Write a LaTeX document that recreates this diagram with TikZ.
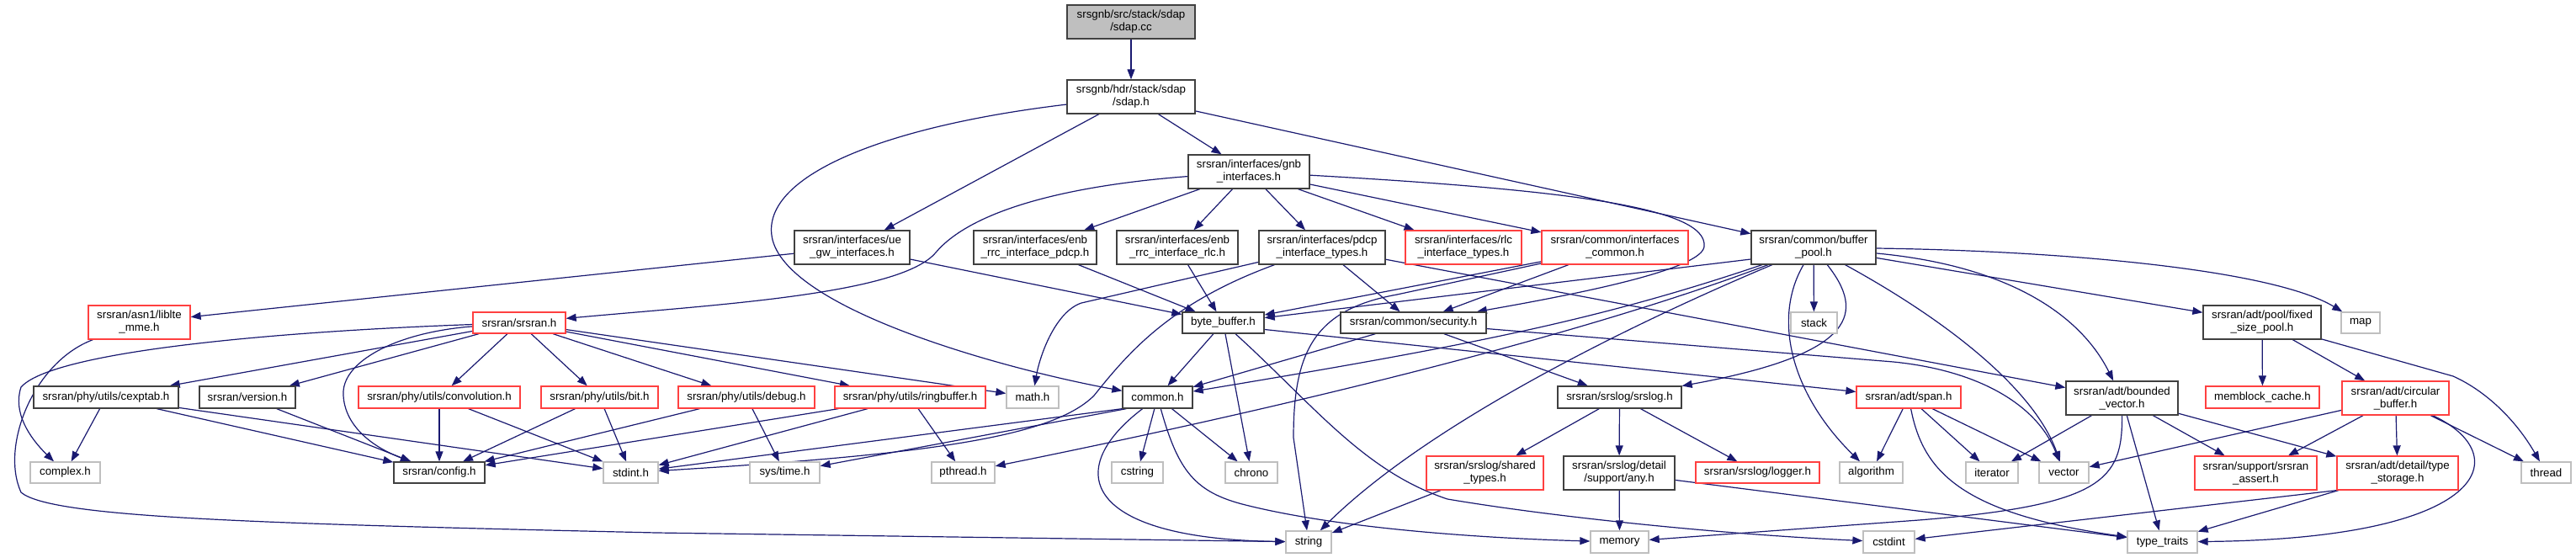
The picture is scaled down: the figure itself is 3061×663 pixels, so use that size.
\documentclass[tikz,border=0pt]{standalone}
\usepackage{fontspec}
\setmainfont{Liberation Sans}
\usetikzlibrary{arrows.meta,backgrounds}
\definecolor{edgec}{HTML}{191970}
\definecolor{darkb}{HTML}{404040}
\definecolor{redb}{HTML}{FF4040}
\definecolor{grayb}{HTML}{BFBFBF}
\definecolor{ccfill}{HTML}{BFBFBF}
\newcommand{\mk}[7]{\node[#2, minimum width=#5pt, minimum height=#6pt] (#1) at (#3,#4) {#7};}
\begin{document}
\begin{tikzpicture}[x=1pt,y=-1pt,
  bx/.style={rectangle, inner sep=0pt, align=center, fill=white, line width=1.3pt, font=\fontsize{13.3}{15}\selectfont},
  nd/.style={bx, draw=darkb},
  nr/.style={bx, draw=redb},
  ng/.style={bx, draw=grayb},
  ncc/.style={bx, draw=darkb, fill=ccfill},
  edge/.style={draw=edgec, line width=1.2pt, -{Triangle[length=12pt,width=9pt]}}
]
\useasboundingbox (0,0) rectangle (3061,663);
% nodes
\mk{cc}{ncc}{1344}{26}{152}{40}{srsgnb/src/stack/sdap\\/sdap.cc}
\mk{sdaph}{nd}{1344}{115}{152}{40}{srsgnb/hdr/stack/sdap\\/sdap.h}
\mk{gnb}{nd}{1484}{204}{144}{40}{srsran/interfaces/gnb\\\_interfaces.h}
\mk{uegw}{nd}{1012.5}{294}{137}{40}{srsran/interfaces/ue\\\_gw\_interfaces.h}
\mk{enbpdcp}{nd}{1230}{294}{146}{40}{srsran/interfaces/enb\\\_rrc\_interface\_pdcp.h}
\mk{enbrlc}{nd}{1399}{294}{144}{40}{srsran/interfaces/enb\\\_rrc\_interface\_rlc.h}
\mk{pdcpt}{nd}{1571}{294}{150}{40}{srsran/interfaces/pdcp\\\_interface\_types.h}
\mk{rlct}{nr}{1739}{294}{138}{40}{srsran/interfaces/rlc\\\_interface\_types.h}
\mk{ifc}{nr}{1919}{294}{174}{40}{srsran/common/interfaces\\\_common.h}
\mk{bpool}{nd}{2155}{294}{148}{40}{srsran/common/buffer\\\_pool.h}
\mk{liblte}{nr}{165.5}{383}{121}{40}{srsran/asn1/liblte\\\_mme.h}
\mk{srsran}{nr}{617}{383.5}{110}{25}{srsran/srsran.h}
\mk{bbuf}{nd}{1453.5}{383.5}{97}{25}{byte\_buffer.h}
\mk{sec}{nd}{1679.5}{383.5}{173}{25}{srsran/common/security.h}
\mk{stack}{ng}{2155.5}{383.5}{55}{25}{stack}
\mk{fsp}{nd}{2688}{383}{140}{40}{srsran/adt/pool/fixed\\\_size\_pool.h}
\mk{map}{ng}{2805}{383.5}{46}{25}{map}
\mk{cexptab}{nd}{126}{472}{172}{26}{srsran/phy/utils/cexptab.h}
\mk{version}{nd}{294}{472}{114}{26}{srsran/version.h}
\mk{conv}{nr}{522}{472}{192}{26}{srsran/phy/utils/convolution.h}
\mk{bit}{nr}{712.5}{472}{139}{26}{srsran/phy/utils/bit.h}
\mk{debug}{nr}{887}{472}{162}{26}{srsran/phy/utils/debug.h}
\mk{ring}{nr}{1081.5}{472}{179}{26}{srsran/phy/utils/ringbuffer.h}
\mk{math}{ng}{1227}{472}{62}{26}{math.h}
\mk{common}{nd}{1375.5}{472}{83}{26}{common.h}
\mk{srslog}{nd}{1924.5}{472}{147}{26}{srsran/srslog/srslog.h}
\mk{span}{nr}{2268}{472}{124}{26}{srsran/adt/span.h}
\mk{bvec}{nd}{2521.5}{473}{133}{40}{srsran/adt/bounded\\\_vector.h}
\mk{memblock}{nr}{2688.5}{472}{135}{26}{memblock\_cache.h}
\mk{circ}{nr}{2846.5}{473}{127}{40}{srsran/adt/circular\\\_buffer.h}
\mk{complex}{ng}{77.5}{561.5}{83}{25}{complex.h}
\mk{config}{nd}{522}{561.5}{108}{25}{srsran/config.h}
\mk{stdint}{ng}{749.5}{561.5}{65}{25}{stdint.h}
\mk{systime}{ng}{932.5}{561.5}{83}{25}{sys/time.h}
\mk{pthread}{ng}{1144.5}{561.5}{75}{25}{pthread.h}
\mk{cstring}{ng}{1351.5}{561.5}{61}{25}{cstring}
\mk{chrono}{ng}{1487}{561.5}{62}{25}{chrono}
\mk{shared}{nr}{1764.5}{562}{139}{40}{srsran/srslog/shared\\\_types.h}
\mk{any}{nd}{1924}{562}{132}{40}{srsran/srslog/detail\\/support/any.h}
\mk{logger}{nr}{2088.5}{561.5}{147}{25}{srsran/srslog/logger.h}
\mk{algorithm}{ng}{2223.5}{561.5}{75}{25}{algorithm}
\mk{iterator}{ng}{2367}{561.5}{62}{25}{iterator}
\mk{vector}{ng}{2452.5}{561.5}{59}{25}{vector}
\mk{assert}{nr}{2680.5}{562}{145}{40}{srsran/support/srsran\\\_assert.h}
\mk{tstorage}{nr}{2849}{562}{144}{40}{srsran/adt/detail/type\\\_storage.h}
\mk{thread}{ng}{3025.5}{561.5}{59}{25}{thread}
\mk{string}{ng}{1555}{644}{54}{26}{string}
\mk{memory}{ng}{1924.5}{644}{69}{26}{memory}
\mk{cstdint}{ng}{2244.5}{644}{61}{26}{cstdint}
\mk{typetraits}{ng}{2569.5}{644}{83}{26}{type\_traits}
% edges
\begin{scope}[on background layer]
\draw[edge] (cc) -- (sdaph);
\draw[edge] (sdaph) -- (uegw);
\draw[edge] (sdaph) -- (gnb);
\draw[edge] (sdaph) -- (bpool);
\draw[edge] (sdaph) .. controls (1050,150) and (900,210) .. (918,285) .. controls (940,370) and (1200,440) .. (common);
% gnb
\draw[edge] (gnb) .. controls (1250,222) and (1150,255) .. (1112,300) .. controls (1070,350) and (850,362) .. (srsran);
\draw[edge] (gnb) -- (enbpdcp);
\draw[edge] (gnb) -- (enbrlc);
\draw[edge] (gnb) -- (pdcpt);
\draw[edge] (gnb) -- (rlct);
\draw[edge] (gnb) -- (ifc);
\draw[edge] (gnb) .. controls (1850,225) and (2030,245) .. (2025,293) .. controls (2022,318) and (1900,345) .. (sec);
% ue gw, enb
\draw[edge] (uegw) -- (liblte);
\draw[edge] (uegw) -- (bbuf);
\draw[edge] (enbpdcp) -- (bbuf);
\draw[edge] (enbrlc) -- (bbuf);
% pdcp types
\draw[edge] (pdcpt) -- (1285,360) .. controls (1255,370) and (1236,420) .. (math);
\draw[edge] (pdcpt) .. controls (1390,360) and (1340,420) .. (1300,470) .. controls (1250,520) and (1100,540) .. (stdint);
\draw[edge] (pdcpt) -- (sec);
\draw[edge] (pdcpt) -- (bvec);
% interfaces common
\draw[edge] (ifc) -- (bbuf);
\draw[edge] (ifc) -- (sec);
\draw[edge] (ifc) -- (1660,350) .. controls (1560,368) and (1537,420) .. (1537,520) -- (string);
% buffer pool
\draw[edge] ([yshift=-14pt]bpool.west) -- (bbuf);
\draw[edge] (bpool) .. controls (1900,380) and (1750,410) .. (common);
\draw[edge] (bpool) .. controls (1850,410) and (1450,500) .. (pthread);
\draw[edge] (bpool) .. controls (1950,380) and (1700,500) .. (string);
\draw[edge] (bpool) .. controls (2215,370) and (2210,420) .. (srslog);
\draw[edge] (bpool) -- (stack);
\draw[edge] (bpool) .. controls (2105,380) and (2130,470) .. (algorithm);
\draw[edge] (bpool) .. controls (2330,390) and (2420,470) .. (vector);
\draw[edge] (bpool) .. controls (2380,315) and (2470,370) .. (bvec);
\draw[edge] (bpool) -- (fsp);
\draw[edge] (bpool) .. controls (2450,298) and (2700,320) .. (map);
% liblte
\draw[edge] (liblte) .. controls (40,430) and (0,530) .. (25,585) .. controls (60,615) and (300,622) .. (780,633) -- (string);
% srsran.h
\draw[edge] (srsran) -- (cexptab);
\draw[edge] (srsran) -- (version);
\draw[edge] (srsran) -- (conv);
\draw[edge] (srsran) -- (bit);
\draw[edge] (srsran) -- (debug);
\draw[edge] (srsran) -- (ring);
\draw[edge] (srsran) -- (math);
\draw[edge] (srsran) .. controls (300,395) and (60,420) .. (25,460) .. controls (15,490) and (35,520) .. (complex);
\draw[edge] (srsran) .. controls (470,395) and (405,430) .. (408,470) .. controls (410,505) and (440,530) .. (config);
% phy utils
\draw[edge] (cexptab) -- (complex);
\draw[edge] (cexptab) -- (config);
\draw[edge] (cexptab) -- (stdint);
\draw[edge] (version) -- (config);
\draw[edge] (conv) -- (config);
\draw[edge] (conv) -- (stdint);
\draw[edge] (bit) -- (config);
\draw[edge] (bit) -- (stdint);
\draw[edge] (debug) -- (config);
\draw[edge] (debug) -- (systime);
\draw[edge] (ring) -- (config);
\draw[edge] (ring) -- (stdint);
\draw[edge] (ring) -- (pthread);
% common.h
\draw[edge] (common.south west) -- (stdint);
\draw[edge] ([xshift=5pt]common.south west) -- (systime);
\draw[edge] (common) -- (cstring);
\draw[edge] (common) -- (chrono);
\draw[edge] (common) .. controls (1260,560) and (1290,640) .. (string);
\draw[edge] (common) .. controls (1400,560) and (1420,585) .. (1480,600) .. controls (1600,630) and (1780,640) .. (memory);
% byte buffer
\draw[edge] (bbuf) -- (common);
\draw[edge] (bbuf) -- (chrono);
\draw[edge] ([yshift=-8pt]bbuf.east) -- (span);
\draw[edge] (bbuf) .. controls (1560,480) and (1620,560) .. (1720,593) .. controls (1850,615) and (2050,635) .. (cstdint);
% security
\draw[edge] (sec) -- (common);
\draw[edge] (sec) -- (srslog);
\draw[edge] (sec) -- (2250,430) .. controls (2350,440) and (2420,480) .. (vector);
% srslog
\draw[edge] (srslog) -- (shared);
\draw[edge] (srslog) -- (any);
\draw[edge] (srslog) -- (logger);
\draw[edge] (shared) -- (string);
\draw[edge] (any) -- (memory);
\draw[edge] (any) -- (typetraits);
% span
\draw[edge] (span) -- (algorithm);
\draw[edge] (span) -- (iterator);
\draw[edge] (span) -- (vector);
\draw[edge] (span) .. controls (2285,560) and (2330,610) .. (typetraits);
% fixed size pool
\draw[edge] (fsp) -- (memblock);
\draw[edge] (fsp) -- (circ);
\draw[edge] (fsp) -- (2915,447) .. controls (2955,465) and (2990,500) .. (thread);
% bounded vector
\draw[edge] (bvec) -- (iterator);
\draw[edge] (bvec) -- (assert);
\draw[edge] (bvec) -- (tstorage);
\draw[edge] (bvec) -- (typetraits);
\draw[edge] (bvec) .. controls (2522,570) and (2500,600) .. (2280,618) -- (memory);
% circular buffer
\draw[edge] (circ) -- (vector);
\draw[edge] (circ) -- (assert);
\draw[edge] (circ) -- (tstorage);
\draw[edge] (circ) -- (thread);
\draw[edge] (circ) .. controls (2990,540) and (2960,640) .. (typetraits);
% type storage
\draw[edge] (tstorage.south west) -- (cstdint);
\draw[edge] (tstorage) -- (typetraits);
\end{scope}
\end{tikzpicture}
\end{document}
